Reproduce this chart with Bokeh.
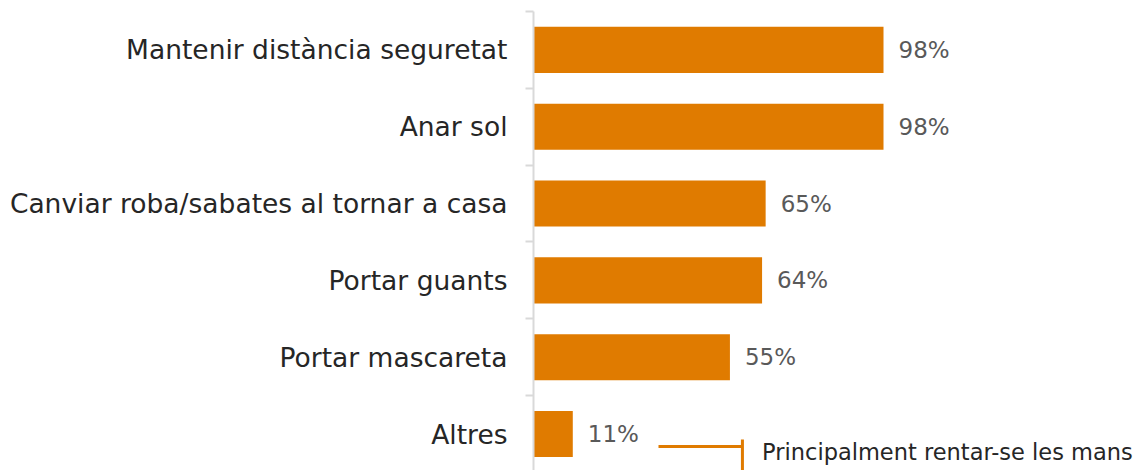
from bokeh.plotting import figure
from bokeh.models import Range1d, FixedTicker, ColumnDataSource, Label
from bokeh.core.properties import value
from bokeh.embed import file_html
from bokeh.resources import INLINE

categories = ["Mantenir distància seguretat", "Anar sol", "Canviar roba/sabates al tornar a casa",
              "Portar guants", "Portar mascareta", "Altres"]
values = [98, 98, 65, 64, 55, 11]
value_labels = ["98%", "98%", "65%", "64%", "55%", "11%"]
note_text = "Principalment rentar-se les mans"

FONT = "DejaVu Sans"
ORANGE = "#E07B00"

ypos = list(range(len(categories)))
src = ColumnDataSource(dict(y=ypos, v=values, lab=value_labels))

W, H = 1138, 470
LEFT = 533
px_per_unit = 350 / 98.0
frame_w = W - LEFT
p = figure(width=W, height=H, output_backend="svg", toolbar_location=None,
           x_range=Range1d(0, frame_w / px_per_unit),
           y_range=Range1d(5.475, -0.5),
           min_border_left=LEFT, min_border_right=0, min_border_top=11, min_border_bottom=0)
p.outline_line_color = None
p.xgrid.visible = False
p.ygrid.visible = False
p.xaxis.visible = False
p.background_fill_color = "white"
p.border_fill_color = "white"

p.hbar(y="y", left=0, right="v", height=0.6, source=src, color=ORANGE, line_color=None)

p.text(x="v", y="y", text="lab", source=src, x_offset=15, text_align="left",
       text_baseline="middle", text_font=value(FONT), text_font_size="23px",
       text_color="#595959")

yax = p.yaxis[0]
yax.ticker = FixedTicker(ticks=ypos, minor_ticks=[i - 0.5 for i in range(len(categories) + 1)])
yax.major_label_overrides = {i: c for i, c in enumerate(categories)}
yax.major_tick_out = 0
yax.major_tick_in = 0
yax.minor_tick_out = 8
yax.minor_tick_in = 0
yax.minor_tick_line_color = "#d9d9d9"
yax.minor_tick_line_width = 2
yax.axis_line_color = "#d9d9d9"
yax.axis_line_width = 2
yax.major_label_standoff = 18
yax.major_label_text_font = FONT
yax.major_label_text_font_size = "26.5px"
yax.major_label_text_color = "#262626"
yax.major_label_text_font_style = "normal"

# annotation for "Altres"
p.segment(x0=35, y0=5.163, x1=58.5, y1=5.163, line_color=ORANGE, line_width=3)
p.segment(x0=58.5, y0=5.07, x1=58.5, y1=5.6, line_color=ORANGE, line_width=3)
p.add_layout(Label(x=64.0, y=5.24, text=note_text, text_font=FONT, text_font_size="22.5px",
                   text_color="#262626", text_baseline="middle", text_align="left"))

open("out.html", "w").write(file_html(p, INLINE))
